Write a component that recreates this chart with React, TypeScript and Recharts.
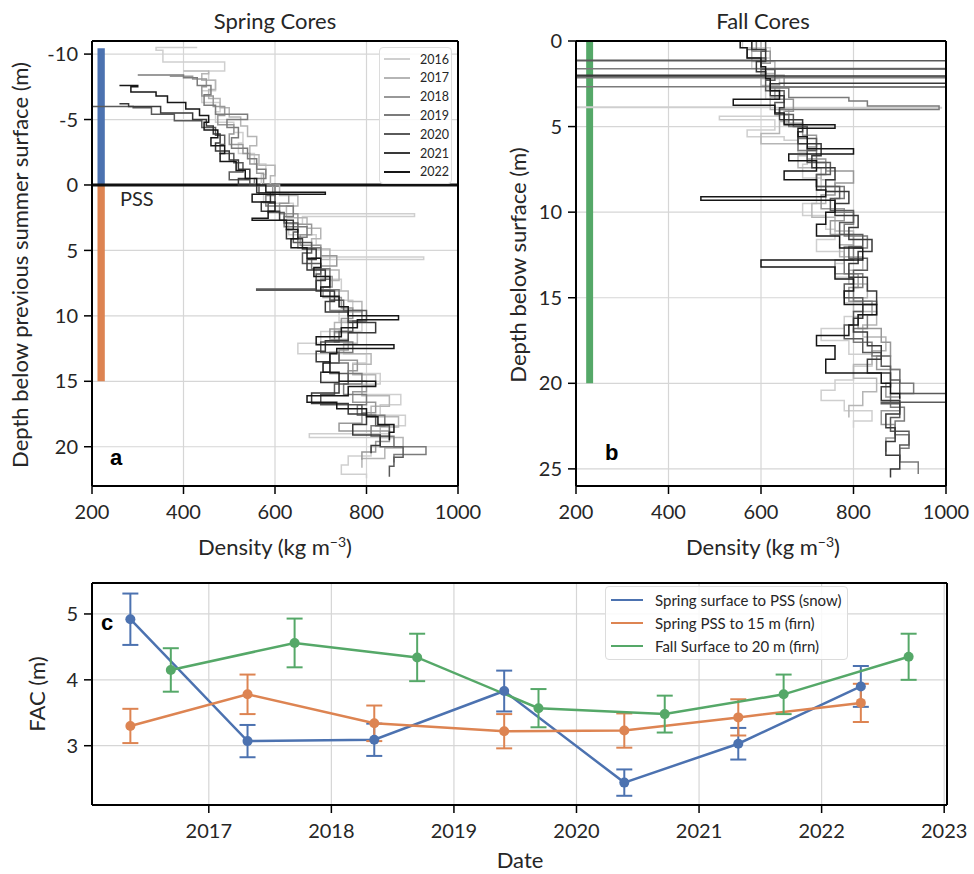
import React from "react";
import {
  LineChart,
  Line,
  XAxis,
  YAxis,
  CartesianGrid,
  ReferenceArea,
  ReferenceLine,
  ErrorBar,
} from "recharts";

const FONT = "Lato, 'Open Sans', sans-serif";

const years = ["2016", "2017", "2018", "2019", "2020", "2021", "2022"];
const greys = ["#cfcfcf", "#b5b5b5", "#989898", "#7b7b7b", "#5a5a5a", "#393939", "#161616"];

const densityTicks = [200, 400, 600, 800, 1000];
const springDepthTicks = [-10, -5, 0, 5, 10, 15, 20];
const fallDepthTicks = [0, 5, 10, 15, 20, 25];
const yearTicks = [2017, 2018, 2019, 2020, 2021, 2022, 2023];
const facTicks = [3, 4, 5];

// spring cores: [depth below previous summer surface (m), density (kg m-3)]
const spring2016 = [
  [-10.5, 430], [-10.3, 340], [-9.4, 355], [-8.7, 490], [-8.0, 455], [-7.2, 470], [-6.3, 440],
  [-5.6, 480], [-4.8, 470], [-4.0, 510], [-3.2, 530], [-2.4, 520], [-1.6, 555], [-0.8, 580],
  [0.0, 570], [0.7, 600], [1.4, 575], [2.2, 640], [2.4, 905], [3.0, 660], [3.8, 630], [4.6, 690],
  [5.5, 700], [5.7, 925], [6.4, 720], [7.2, 690], [8.0, 745], [8.8, 720], [9.6, 770], [10.4, 740],
  [11.2, 790], [12.1, 700], [12.9, 650], [13.6, 800], [14.4, 770], [15.2, 830], [16.0, 790],
  [16.8, 875], [17.6, 830], [18.4, 885], [19.0, 850], [19.3, 675], [20.0, 860], [20.7, 810],
  [21.4, 760], [22.1, 745], [22.4, 800],
];
const spring2017 = [
  [-8.7, 400], [-8.5, 455], [-8.0, 440], [-7.3, 470], [-6.6, 455], [-5.9, 480], [-5.2, 500],
  [-4.5, 525], [-3.7, 540], [-3.0, 560], [-2.3, 545], [-1.5, 565], [-0.7, 600], [0.0, 590],
  [0.8, 610], [1.6, 650], [2.5, 625], [3.3, 670], [4.1, 700], [4.9, 680], [5.7, 720], [6.5, 700],
  [7.3, 740], [8.1, 720], [8.9, 760], [9.7, 790], [10.5, 760], [11.3, 730], [12.1, 780], [12.9, 750],
  [13.7, 810], [14.5, 770], [15.3, 820], [16.1, 790], [16.9, 850], [17.7, 810], [18.5, 870],
  [19.3, 830], [20.1, 880], [20.9, 840], [21.6, 790],
];
const spring2018 = [
  [-8.3, 370], [-8.1, 420], [-7.5, 450], [-6.8, 440], [-6.0, 465], [-5.3, 490], [-4.6, 475],
  [-3.9, 510], [-3.1, 500], [-2.4, 530], [-1.6, 545], [-0.9, 560], [0.0, 575], [0.7, 595],
  [1.4, 630], [2.2, 610], [3.0, 650], [3.8, 680], [4.6, 655], [5.4, 700], [6.2, 735], [7.0, 700],
  [7.8, 725], [8.6, 705], [9.4, 745], [10.2, 770], [11.0, 745], [11.8, 720], [12.6, 760],
  [13.4, 740], [14.2, 780], [15.0, 760], [15.8, 800], [16.6, 770], [17.4, 820], [18.2, 790],
  [18.8, 740], [19.6, 850], [20.4, 820], [21.0, 790],
];
const spring2019 = [
  [-8.4, 300], [-8.2, 400], [-7.6, 430], [-6.9, 460], [-6.1, 445], [-5.4, 470], [-5.0, 540],
  [-4.4, 495], [-3.6, 520], [-2.8, 505], [-2.0, 540], [-1.2, 560], [-0.5, 580], [0.0, 555],
  [0.8, 600], [1.6, 580], [2.4, 640], [3.2, 620], [4.0, 670], [4.8, 650], [5.6, 700], [6.4, 680],
  [7.2, 720], [8.0, 700], [8.8, 740], [9.6, 720], [10.4, 790], [11.2, 760], [12.0, 730],
  [12.8, 770], [13.6, 720], [14.4, 760], [15.2, 790], [16.0, 750], [16.8, 800], [17.6, 780],
  [18.4, 840], [19.2, 810], [20.0, 860], [20.6, 930], [21.2, 860],
];
const spring2020 = [
  [-6.0, 150], [-5.9, 290], [-5.4, 330], [-4.9, 380], [-4.4, 440], [-3.8, 470], [-3.1, 490],
  [-2.4, 480], [-1.7, 510], [-1.0, 530], [-0.4, 500], [0.0, 545], [0.7, 565], [1.4, 600],
  [2.1, 585], [2.9, 620], [3.6, 650], [4.4, 640], [5.2, 680], [6.0, 660], [6.8, 700], [7.95, 690],
  [8.05, 560], [8.8, 720], [9.6, 750], [10.4, 800], [11.2, 770], [12.0, 740], [12.8, 700],
  [13.6, 740], [14.4, 720], [15.2, 760], [16.0, 730], [16.8, 700], [17.6, 790], [18.4, 820],
  [19.2, 850], [20.0, 830], [20.8, 880], [21.5, 860], [22.3, 850],
];
const spring2021 = [
  [-6.2, 260], [-6.0, 280], [-5.5, 350], [-5.0, 420], [-4.5, 450], [-3.9, 465], [-3.2, 480],
  [-2.6, 470], [-1.9, 500], [-1.2, 520], [-0.5, 545], [0.0, 520], [0.6, 560], [1.3, 590],
  [2.0, 570], [2.7, 610], [3.4, 640], [4.1, 625], [4.9, 660], [5.7, 690], [6.5, 670], [7.3, 710],
  [8.1, 690], [8.9, 730], [9.7, 710], [10.5, 760], [11.3, 820], [11.9, 760], [12.7, 710],
  [13.5, 690], [14.3, 720], [15.1, 700], [15.9, 740], [16.7, 680], [17.5, 760], [18.3, 800],
  [19.1, 770], [19.9, 830], [20.5, 810],
];
const spring2022 = [
  [-7.6, 260], [-7.5, 300], [-7.1, 285], [-6.8, 340], [-6.3, 365], [-5.8, 405], [-5.3, 435],
  [-4.8, 455], [-4.2, 445], [-3.6, 475], [-3.0, 460], [-2.4, 490], [-1.8, 480], [-1.1, 515],
  [-0.5, 535], [0.0, 560], [0.55, 580], [0.7, 710], [1.3, 550], [2.0, 600], [2.55, 585],
  [2.7, 550], [3.4, 625], [4.1, 650], [4.8, 635], [5.6, 670], [6.3, 700], [7.0, 685], [7.8, 720],
  [8.5, 700], [9.3, 740], [10.0, 760], [10.3, 870], [10.9, 780], [11.6, 745], [12.2, 690],
  [12.5, 860], [12.9, 735], [13.6, 720], [14.3, 705], [15.0, 740], [15.4, 820], [16.1, 760],
  [16.6, 670], [17.1, 735], [17.7, 800], [18.3, 825], [18.9, 860], [19.5, 850],
];

// fall cores: [depth below surface (m), density (kg m-3)]
const fall2016 = [
  [0.0, 540], [0.4, 560], [1.0, 620], [1.6, 580], [2.2, 600], [2.8, 640], [3.4, 610], [3.85, 620],
  [3.88, 150], [3.92, 990], [4.4, 640], [4.6, 510], [5.2, 630], [5.6, 570], [5.8, 650], [6.5, 680],
  [7.2, 700], [8.0, 690], [8.7, 730], [9.5, 720], [10.2, 690], [11.0, 740], [11.6, 760],
  [12.3, 720], [13.0, 780], [13.8, 760], [14.6, 800], [15.3, 780], [16.1, 820], [16.8, 780],
  [17.5, 730], [18.3, 790], [19.0, 840], [19.8, 800], [20.4, 760], [21.0, 730], [21.6, 780],
  [22.2, 840], [22.6, 800],
];
const fall2017 = [
  [0.0, 520], [0.5, 600], [1.2, 580], [1.9, 630], [2.6, 600], [3.3, 640], [4.0, 620], [4.7, 660],
  [5.4, 640], [6.0, 600], [6.7, 700], [7.4, 680], [8.1, 730], [8.8, 760], [9.5, 740], [10.3, 710],
  [11.1, 760], [11.9, 800], [12.6, 770], [13.4, 820], [14.2, 790], [15.0, 830], [15.8, 800],
  [16.6, 850], [17.3, 820], [18.1, 870], [18.9, 840], [19.7, 800], [20.5, 850], [21.3, 820],
  [22.0, 790],
];
const fall2018 = [
  [0.0, 600], [0.6, 580], [1.3, 620], [2.0, 600], [2.7, 650], [3.4, 630], [4.1, 670], [4.8, 650],
  [5.5, 690], [6.2, 720], [6.9, 700], [7.6, 740], [8.3, 800], [9.0, 760], [9.8, 730], [10.5, 780],
  [11.3, 750], [12.0, 800], [12.8, 780], [13.6, 760], [14.4, 810], [15.2, 790], [16.0, 840],
  [16.8, 810], [17.6, 860], [18.4, 880], [19.2, 850], [20.0, 900], [20.8, 870], [21.6, 900],
  [22.4, 860], [23.2, 890], [24.0, 870],
];
const fall2019 = [
  [0.0, 560], [0.5, 590], [1.0, 570], [1.6, 600], [1.62, 2000], [2.12, -500], [2.14, 2000],
  [2.68, -500], [2.7, 2000], [2.75, 620], [3.3, 660], [3.5, 790], [3.8, 830], [4.0, 985],
  [4.3, 640], [5.0, 660], [5.7, 700], [6.4, 680], [7.1, 720], [7.8, 740], [8.5, 720], [9.2, 780],
  [10.0, 760], [10.7, 800], [11.4, 780], [12.1, 830], [12.8, 800], [13.6, 780], [14.4, 820],
  [15.2, 800], [16.0, 850], [16.8, 830], [17.6, 800], [18.4, 840], [19.2, 880], [20.0, 900],
  [20.6, 930], [21.4, 880], [22.2, 910], [23.0, 890], [23.8, 920], [24.6, 900], [25.3, 940],
];
const fall2020 = [
  [0.0, 580], [0.6, 610], [1.0, 600], [1.13, 610], [1.15, -500], [1.64, 2000], [1.66, 600],
  [2.3, 630], [2.9, 610], [3.6, 650], [4.3, 630], [5.0, 670], [5.7, 700], [6.4, 720], [7.1, 700],
  [7.8, 750], [8.5, 720], [9.2, 770], [9.9, 750], [10.6, 800], [11.3, 770], [12.0, 820],
  [12.7, 790], [13.4, 830], [14.2, 800], [15.0, 780], [15.8, 820], [16.6, 800], [17.4, 780],
  [18.2, 820], [19.0, 860], [19.8, 880], [20.6, 900], [21.1, 1050], [21.2, 860], [22.0, 900],
  [22.8, 880], [23.6, 920], [24.5, 900],
];
const fall2021 = [
  [0.0, 600], [0.5, 580], [1.2, 610], [1.8, 590], [2.0, 610], [2.05, -500], [2.47, 2000],
  [2.5, 640], [3.2, 620], [3.9, 650], [4.6, 640], [5.3, 690], [6.0, 680], [6.7, 730], [7.4, 710],
  [8.1, 760], [8.8, 740], [9.5, 790], [10.2, 760], [10.9, 810], [11.6, 790], [12.3, 840],
  [13.0, 810], [13.8, 790], [14.6, 830], [15.4, 850], [16.2, 820], [17.0, 800], [17.8, 830],
  [18.6, 860], [19.4, 830], [20.2, 880], [21.0, 860], [21.8, 900], [22.6, 870], [23.4, 890],
  [24.2, 870], [25.0, 900], [25.5, 880],
];
const fall2022 = [
  [0.0, 560], [0.4, 555], [1.0, 570], [1.5, 600], [2.2, 610], [2.9, 620], [3.4, 640], [3.75, 540],
  [4.2, 630], [4.9, 650], [5.1, 760], [5.6, 680], [6.3, 700], [6.6, 800], [7.0, 660], [7.6, 720],
  [8.1, 650], [8.7, 720], [9.1, 740], [9.3, 470], [10.0, 760], [10.7, 740], [11.4, 720],
  [12.1, 770], [12.8, 820], [13.2, 600], [13.9, 760], [14.6, 800], [15.4, 780], [16.0, 850],
  [16.6, 810], [17.2, 790], [17.8, 720], [18.6, 760], [19.4, 740], [20.0, 860], [20.6, 880],
  [20.9, 900],
];

const springCores = [spring2016, spring2017, spring2018, spring2019, spring2020, spring2021, spring2022];
const fallCores = [fall2016, fall2017, fall2018, fall2019, fall2020, fall2021, fall2022];

// firn air content
const springDates = [2016.36, 2017.316, 2018.35, 2019.41, 2020.39, 2021.32, 2022.32];
const snowFac = [4.92, 3.07, 3.09, 3.83, 2.44, 3.03, 3.9];
const snowErr = [0.39, 0.245, 0.245, 0.31, 0.2, 0.24, 0.31];
const firnFac = [3.3, 3.78, 3.34, 3.22, 3.23, 3.43, 3.65];
const firnErr = [0.26, 0.3, 0.27, 0.26, 0.26, 0.275, 0.29];
const fallDates = [2016.69, 2017.7, 2018.7, 2019.69, 2020.72, 2021.69, 2022.71];
const fallFac = [4.15, 4.56, 4.34, 3.57, 3.48, 3.78, 4.35];
const fallErr = [0.33, 0.37, 0.36, 0.29, 0.28, 0.3, 0.35];

const facSeries = [
  { name: "Spring surface to PSS (snow)", color: "#4c72b0", dates: springDates, fac: snowFac, err: snowErr },
  { name: "Spring PSS to 15 m (firn)", color: "#dd8452", dates: springDates, fac: firnFac, err: firnErr },
  { name: "Fall Surface to 20 m (firn)", color: "#55a868", dates: fallDates, fac: fallFac, err: fallErr },
];

const toRows = (pairs: number[][]) => pairs.map(([depth, density]) => ({ depth, density }));

const axisLine = { stroke: "#000", strokeWidth: 2 };
const tickLine = { stroke: "#000", strokeWidth: 1.5 };
const tickStyle = { fontSize: 20, fill: "#262626", fontFamily: FONT };

function ProfileChart({ cores, yDomain, yTicks, width, margin, children }: any) {
  return (
    <LineChart width={width} height={560} margin={margin}>
      <CartesianGrid stroke="#d6d6d6" strokeWidth={1.2} />
      <XAxis
        type="number"
        dataKey="density"
        domain={[200, 1000]}
        ticks={densityTicks}
        allowDataOverflow
        interval={0}
        height={50}
        tickSize={8}
        tickMargin={11}
        axisLine={axisLine}
        tickLine={tickLine}
        tick={tickStyle}
      />
      <XAxis
        xAxisId="top"
        orientation="top"
        type="number"
        dataKey="density"
        domain={[200, 1000]}
        ticks={densityTicks}
        allowDataOverflow
        interval={0}
        height={10}
        tickSize={8}
        axisLine={axisLine}
        tickLine={tickLine}
        tick={false}
      />
      <YAxis
        type="number"
        domain={yDomain}
        reversed
        ticks={yTicks}
        allowDataOverflow
        interval={0}
        width={60}
        tickSize={8}
        tickMargin={6}
        axisLine={axisLine}
        tickLine={tickLine}
        tick={tickStyle}
      />
      <YAxis
        yAxisId="right"
        orientation="right"
        type="number"
        domain={yDomain}
        reversed
        ticks={yTicks}
        allowDataOverflow
        interval={0}
        width={10}
        tickSize={8}
        axisLine={axisLine}
        tickLine={tickLine}
        tick={false}
      />
      {children}
      {cores.map((core: number[][], i: number) => (
        <Line
          key={years[i]}
          data={toRows(core)}
          dataKey="depth"
          type="stepAfter"
          stroke={greys[i]}
          strokeWidth={1.5}
          dot={false}
          isAnimationActive={false}
        />
      ))}
    </LineChart>
  );
}

function FacChart() {
  return (
    <LineChart width={974} height={314} margin={{ top: 13, right: 17, bottom: 29, left: 32 }}>
      <CartesianGrid stroke="#d6d6d6" strokeWidth={1.2} />
      <XAxis
        type="number"
        dataKey="date"
        domain={[2016.047, 2023.023]}
        ticks={yearTicks}
        allowDataOverflow
        interval={0}
        height={40}
        tickSize={8}
        tickMargin={11}
        axisLine={axisLine}
        tickLine={tickLine}
        tick={tickStyle}
      />
      <XAxis
        xAxisId="top"
        orientation="top"
        type="number"
        dataKey="date"
        domain={[2016.047, 2023.023]}
        ticks={yearTicks}
        allowDataOverflow
        interval={0}
        height={10}
        tickSize={8}
        axisLine={axisLine}
        tickLine={tickLine}
        tick={false}
      />
      <YAxis
        type="number"
        domain={[2.1, 5.47]}
        ticks={facTicks}
        allowDataOverflow
        interval={0}
        width={60}
        tickSize={8}
        tickMargin={6}
        axisLine={axisLine}
        tickLine={tickLine}
        tick={tickStyle}
      />
      <YAxis
        yAxisId="right"
        orientation="right"
        type="number"
        domain={[2.1, 5.47]}
        ticks={facTicks}
        allowDataOverflow
        interval={0}
        width={10}
        tickSize={8}
        axisLine={axisLine}
        tickLine={tickLine}
        tick={false}
      />
      {facSeries.map((s) => (
        <Line
          key={s.name}
          data={s.dates.map((date, i) => ({ date, fac: s.fac[i], err: s.err[i] }))}
          dataKey="fac"
          stroke={s.color}
          strokeWidth={2.5}
          dot={{ r: 5, fill: s.color, stroke: s.color, strokeWidth: 0 }}
          isAnimationActive={false}
        >
          <ErrorBar dataKey="err" direction="y" width={8} strokeWidth={2} stroke={s.color} />
        </Line>
      ))}
    </LineChart>
  );
}

const legendBox: React.CSSProperties = {
  position: "absolute",
  background: "rgba(255,255,255,0.85)",
  border: "1px solid #dcdcdc",
  borderRadius: 4,
  boxSizing: "border-box",
  fontFamily: FONT,
  color: "#262626",
};

export default function App() {
  return (
    <div style={{ position: "absolute", left: 0, top: 0, width: 974, height: 874, background: "#fff" }}>
      <div style={{ position: "absolute", left: 0, top: 0 }}>
        <ProfileChart
          cores={springCores}
          yDomain={[-11, 23]}
          yTicks={springDepthTicks}
          width={500}
          margin={{ top: 31, right: 32, bottom: 24, left: 32 }}
        >
          <ReferenceArea x1={212} x2={228} y1={-10.44} y2={0} fill="#4c72b0" fillOpacity={1} stroke="none" />
          <ReferenceArea x1={212} x2={228} y1={0} y2={15} fill="#dd8452" fillOpacity={1} stroke="none" />
          <ReferenceLine y={0} stroke="#111" strokeWidth={3} />
        </ProfileChart>
      </div>
      <div style={{ position: "absolute", left: 480, top: 0 }}>
        <ProfileChart
          cores={fallCores}
          yDomain={[0, 26]}
          yTicks={fallDepthTicks}
          width={494}
          margin={{ top: 31, right: 18, bottom: 24, left: 36 }}
        >
          <ReferenceArea x1={222} x2={237} y1={0} y2={20} fill="#55a868" fillOpacity={1} stroke="none" />
        </ProfileChart>
      </div>
      <div style={{ position: "absolute", left: 0, top: 560 }}>
        <FacChart />
      </div>

      {/* year legend, panel a */}
      <div style={{ ...legendBox, left: 379, top: 47, width: 73, height: 137 }}>
        {years.map((y, i) => (
          <div key={y} style={{ position: "absolute", left: 4, top: 3 + i * 18.8, height: 16, display: "flex", alignItems: "center" }}>
            <div style={{ width: 26, height: 2, background: greys[i] }} />
            <span style={{ marginLeft: 10, fontSize: 12.5 }}>{y}</span>
          </div>
        ))}
      </div>

      {/* series legend, panel c */}
      <div style={{ ...legendBox, left: 605, top: 586, width: 243, height: 74 }}>
        {facSeries.map((s, i) => (
          <div key={s.name} style={{ position: "absolute", left: 5, top: 3 + i * 23, height: 20, display: "flex", alignItems: "center" }}>
            <div style={{ width: 32, height: 2.5, background: s.color }} />
            <span style={{ marginLeft: 12, fontSize: 15, whiteSpace: "nowrap" }}>{s.name}</span>
          </div>
        ))}
      </div>

      <svg
        width={974}
        height={874}
        style={{ position: "absolute", left: 0, top: 0, pointerEvents: "none" }}
        fontFamily={FONT}
        fill="#262626"
      >
        <text x={275} y={29} fontSize={22} textAnchor="middle">Spring Cores</text>
        <text x={763} y={29} fontSize={22} textAnchor="middle">Fall Cores</text>
        <text x={275} y={555} fontSize={22} textAnchor="middle">
          Density (kg m<tspan dy={-8} fontSize={14}>−3</tspan><tspan dy={8}>)</tspan>
        </text>
        <text x={763} y={555} fontSize={22} textAnchor="middle">
          Density (kg m<tspan dy={-8} fontSize={14}>−3</tspan><tspan dy={8}>)</tspan>
        </text>
        <text x={28} y={265} fontSize={22} textAnchor="middle" transform="rotate(-90 28 265)">
          Depth below previous summer surface (m)
        </text>
        <text x={526} y={265} fontSize={22} textAnchor="middle" transform="rotate(-90 526 265)">
          Depth below surface (m)
        </text>
        <text x={45} y={694} fontSize={22} textAnchor="middle" transform="rotate(-90 45 694)">
          FAC (m)
        </text>
        <text x={520} y={868} fontSize={22} textAnchor="middle">Date</text>
        <text x={120} y={206} fontSize={20}>PSS</text>
        <g fontFamily="'Liberation Sans', Arial, sans-serif" fontWeight="bold" fontSize={22} fill="#000">
          <text x={110} y={465}>a</text>
          <text x={605} y={460}>b</text>
          <text x={101} y={630}>c</text>
        </g>
      </svg>
    </div>
  );
}
